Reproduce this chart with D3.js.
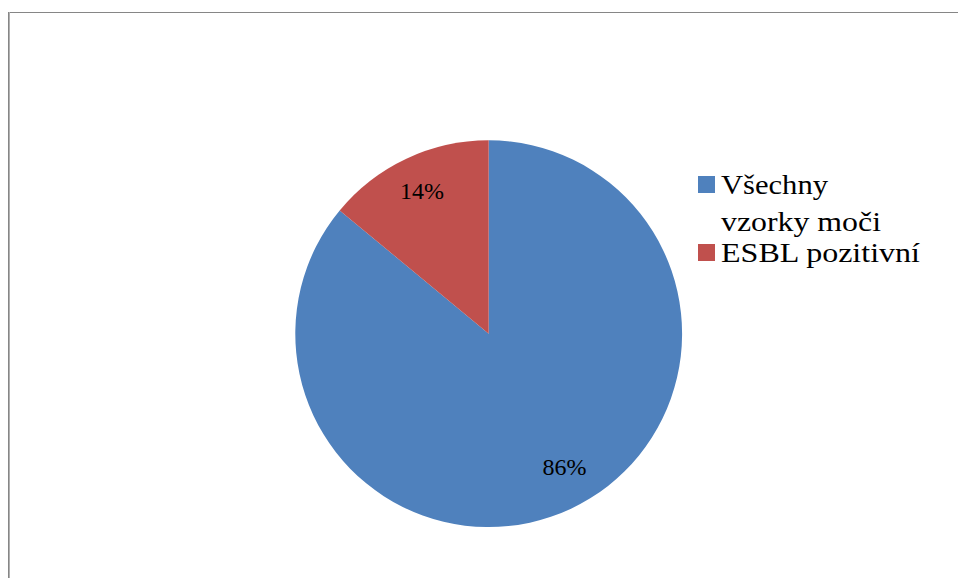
<!DOCTYPE html>
<html><head><meta charset="utf-8">
<script src="https://cdn.jsdelivr.net/npm/d3@7"></script>
<style>html,body{margin:0;padding:0;background:#fff;overflow:hidden}
.serif{font-family:"Liberation Serif","Times New Roman","DejaVu Serif",serif;}</style>
</head><body>
<svg id="chart" width="958" height="578"></svg>
<script>
const categories = ["Všechny vzorky moči", "ESBL pozitivní"];
const legendLines = [["Všechny", "vzorky moči"], ["ESBL pozitivní"]];
const values = [86, 14];
const labels = ["86%", "14%"];
const colors = ["#4F81BD", "#C0504D"];

const svg = d3.select("#chart");
svg.append("rect").attr("x", 8.5).attr("y", 12.5).attr("width", 1000).attr("height", 700)
  .attr("fill", "none").attr("stroke", "#868686").attr("stroke-width", 1);
svg.append("line").attr("x1", 9.5).attr("x2", 9.5).attr("y1", 12).attr("y2", 578)
  .attr("stroke", "#b0b0b0").attr("stroke-width", 1);

const cx = 488.7, cy = 333.7, R = 193.4;
const pie = d3.pie().sort(null).value(d => d)(values);
const arc = d3.arc().innerRadius(0).outerRadius(R);
const labelArc = d3.arc().innerRadius(R * 0.81).outerRadius(R * 0.81);
// Excel best-fit nudges for the data labels (layout only)
const nudge = [[9, -9], [0, -1]];
const g = svg.append("g").attr("transform", `translate(${cx},${cy})`);
g.selectAll("path.slice").data(pie).join("path").attr("class", "slice")
  .attr("d", arc).attr("fill", (d, i) => colors[i]);
g.selectAll("text.lbl").data(pie).join("text").attr("class", "lbl serif")
  .attr("x", (d, i) => labelArc.centroid(d)[0] + nudge[i][0])
  .attr("y", (d, i) => labelArc.centroid(d)[1] + nudge[i][1])
  .attr("dy", "0.35em").attr("text-anchor", "middle")
  .attr("font-size", 24).attr("fill", "#000")
  .attr("textLength", 44).attr("lengthAdjust", "spacingAndGlyphs")
  .text((d, i) => labels[i]);

const legendBaselines = [[194, 231], [262]];
const legendWidths = [[107, 160], [199]];
const lg = svg.append("g");
categories.forEach((c, i) => {
  const b0 = legendBaselines[i][0];
  lg.append("rect").attr("x", 698).attr("y", b0 - 18).attr("width", 17).attr("height", 17)
    .attr("fill", colors[i]);
  legendLines[i].forEach((ln, j) => {
    lg.append("text").attr("class", "serif").attr("x", 721).attr("y", legendBaselines[i][j])
      .attr("font-size", 27).attr("fill", "#000")
      .attr("textLength", legendWidths[i][j]).attr("lengthAdjust", "spacingAndGlyphs")
      .text(ln);
  });
});
</script>
</body></html>
